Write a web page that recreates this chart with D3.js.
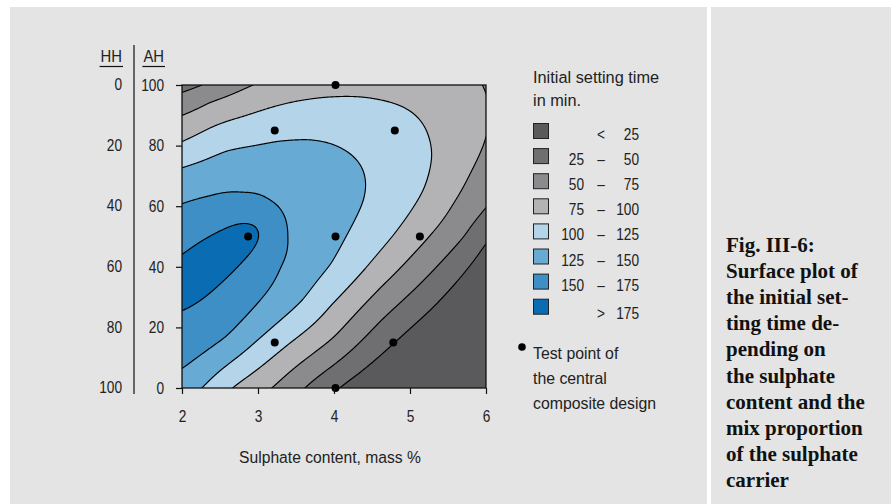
<!DOCTYPE html>
<html lang="en">

<head>
    <meta charset="UTF-8">
    <title>Initial setting time</title>
    <script src="https://cdn.jsdelivr.net/npm/d3@7"></script>
    <style>
        body {
            margin: 0;
            background: #fff;
        }

        .cond {
            font-family: "Liberation Sans", Arial, sans-serif;
            font-size: 16.5px;
            fill: #222;
        }

        .caption {
            font-family: "Liberation Serif", "DejaVu Serif", serif;
            font-weight: bold;
            font-size: 21px;
            fill: #111;
        }
    </style>
</head>

<body>
    <script>
        const width = 891;
        const height = 504;

        // band limits and colours (legend order, low to high)
        const levels = [25, 50, 75, 100, 125, 150, 175];
        const bandLow = [null, 25, 50, 75, 100, 125, 150, 175];
        const bandHigh = [25, 50, 75, 100, 125, 150, 175, null];
        const bandColors = ["#5a5a5c", "#6f6f71", "#8b8b8d", "#b3b3b5", "#b4d4e9", "#67aad4", "#3e8fc6", "#0a6db3"];

        // test points of the central composite design
        const testSulphate = [4.02, 3.22, 4.8, 2.87, 4.02, 5.13, 3.22, 4.78, 4.02];
        const testAH = [100, 85, 85, 50, 50, 50, 15, 15, 0];

        // isoline positions: [sulphate %, AH %]
        const iso25 = [[6, 48.4], [5.7, 37.6], [5.26, 25.5], [4.78, 14.5], [4.06, 0]];
        const iso50 = [[2, 97.3], [2.32, 100], [6, 59.3], [5.72, 49.8], [5.26, 37.6], [4.61, 22.2], [4.0, 7.6], [3.61, 0]];
        const iso75 = [[2, 90.1], [2.36, 94.7], [2.93, 100], [5.95, 100], [6, 97.5], [6, 82.4], [5.79, 70.9], [5.57, 61], [5.26, 50.3], [5.04, 44.2], [4.61, 33.2], [4.0, 16.7], [3.19, 0]];
        const iso100 = [[2, 81], [2.8, 89.5], [3.24, 93.1], [3.68, 95.3], [4.03, 96.1], [4.61, 95], [5.04, 90.7], [5.24, 82.9], [5.29, 76.3], [5.18, 65.3], [4.78, 50.3], [4.39, 38.7], [3.95, 27.2], [3.4, 14.5], [2.64, 0]];
        const iso125 = [[2, 73], [2.58, 78.5], [3.24, 81.5], [3.68, 82.1], [3.95, 80.8], [4.3, 75.2], [4.41, 68.6], [4.39, 62], [4.17, 50.5], [3.96, 40.5], [3.59, 28.8], [2.98, 15.6], [2.27, 0]];
        const iso150 = [[2, 60.7], [2.36, 63.1], [2.8, 64], [3.15, 61.5], [3.32, 57.7], [3.37, 53.2], [3.37, 49.7], [3.28, 39.8], [3.02, 28.8], [2.58, 16.7], [2, 6.3]];
        const iso175 = [[2, 44], [2.27, 48.8], [2.8, 54.6], [3.0, 54.3], [3.04, 51], [3.02, 49.7], [2.8, 42], [2.45, 33.2], [2, 25.5]];

        const yTicks = [0, 20, 40, 60, 80, 100];
        const xTicks = [2, 3, 4, 5, 6];

        const captionLines = ["Fig. III-6:", "Surface plot of", "the initial set-", "ting time de-", "pending on",
            "the sulphate", "content and the", "mix proportion", "of the sulphate", "carrier"];

        // smooth surface through the isoline readings (thin plate spline)
        const phi = r => r > 0 ? r * r * Math.log(r) : 0;
        const norm = (s, ah) => [(s - 2) / 4, ah / 100];

        const solve = (M) => {
            const k = M.length;
            for (let c = 0; c < k; c++) {
                let piv = c;
                for (let r = c + 1; r < k; r++) if (Math.abs(M[r][c]) > Math.abs(M[piv][c])) piv = r;
                [M[c], M[piv]] = [M[piv], M[c]];
                for (let r = 0; r < k; r++) {
                    if (r === c) continue;
                    const f = M[r][c] / M[c][c];
                    if (f === 0) continue;
                    for (let j = c; j <= k; j++) M[r][j] -= f * M[c][j];
                }
            }
            return M.map((r, i) => r[k] / r[i]);
        }

        const knots = [];
        [iso25, iso50, iso75, iso100, iso125, iso150, iso175].forEach((set, i) => {
            set.forEach(p => knots.push({ p: norm(p[0], p[1]), val: levels[i] }));
        });
        const N = knots.length;
        const lambda = 0.004;
        const M = d3.range(N + 3).map(() => new Array(N + 4).fill(0));
        knots.forEach((a, i) => {
            knots.forEach((b, j) => {
                M[i][j] = phi(Math.hypot(a.p[0] - b.p[0], a.p[1] - b.p[1])) + (i === j ? lambda : 0);
            });
            M[i][N] = M[N][i] = 1;
            M[i][N + 1] = M[N + 1][i] = a.p[0];
            M[i][N + 2] = M[N + 2][i] = a.p[1];
            M[i][N + 3] = a.val;
        });
        const w = solve(M);

        const surface = (s, ah) => {
            const [u, v] = norm(s, ah);
            let f = w[N] + w[N + 1] * u + w[N + 2] * v;
            for (let i = 0; i < N; i++) f += w[i] * phi(Math.hypot(u - knots[i].p[0], v - knots[i].p[1]));
            return f;
        }

        // condensed look: Liberation Sans squeezed horizontally
        const squeeze = (sel, sx) => sel.each(function () {
            const t = d3.select(this);
            const px = +t.attr("x") || 0, py = +t.attr("y") || 0;
            t.attr("x", null).attr("y", null).attr("transform", `translate(${px},${py}) scale(${sx},1)`);
        });

        const svg = d3.select("body").append("svg").attr("width", width).attr("height", height);

        // panels
        svg.append("rect").attr("x", 10).attr("y", 7).attr("width", 697).attr("height", height - 7).attr("fill", "#e3e4e3");
        svg.append("rect").attr("x", 711).attr("y", 7).attr("width", width - 711).attr("height", height - 7).attr("fill", "#e3e4e3");

        const x = d3.scaleLinear().domain([2, 6]).range([182, 486]);
        const y = d3.scaleLinear().domain([0, 100]).range([388, 85]);

        svg.append("clipPath").attr("id", "plotclip")
            .append("rect").attr("x", x(2)).attr("y", y(100)).attr("width", x(6) - x(2)).attr("height", y(0) - y(100));

        const plot = svg.append("g").attr("clip-path", "url(#plotclip)");
        plot.append("rect").attr("x", x(2)).attr("y", y(100)).attr("width", x(6) - x(2)).attr("height", y(0) - y(100))
            .attr("fill", bandColors[0]);

        // grid for d3.contours
        const n = 305, m = 304;
        const gs = i => 2 + i * 4 / (n - 1);
        const ga = j => 100 - j * 100 / (m - 1);
        const values = new Float64Array(n * m);
        for (let j = 0; j < m; j++) {
            for (let i = 0; i < n; i++) values[i + j * n] = surface(gs(i), ga(j));
        }
        const contours = d3.contours().size([n, m]).thresholds(levels)(values);
        const path = d3.geoPath(d3.geoTransform({
            point: function (px, py) { this.stream.point(x(gs(px - 0.5)), y(ga(py - 0.5))); }
        }));

        plot.selectAll("path.band")
            .data(contours)
            .join("path")
            .attr("class", "band")
            .attr("d", path)
            .attr("fill", (d, i) => bandColors[i + 1])
            .attr("stroke", "#000")
            .attr("stroke-width", 1.15)
            .attr("stroke-linejoin", "round");

        // frame
        svg.append("rect").attr("x", x(2)).attr("y", y(100)).attr("width", x(6) - x(2)).attr("height", y(0) - y(100))
            .attr("fill", "none").attr("stroke", "#111").attr("stroke-width", 1.3);

        // test points
        svg.append("g").selectAll("circle")
            .data(testSulphate)
            .join("circle")
            .attr("cx", d => x(d))
            .attr("cy", (d, i) => y(testAH[i]))
            .attr("r", 4)
            .attr("fill", "#000");

        // axes
        const xAxis = svg.append("g").attr("transform", `translate(0,${y(0)})`)
            .call(d3.axisBottom(x).tickValues(xTicks).tickFormat(d3.format("d")).tickSize(6).tickPadding(16));
        const yAxis = svg.append("g").attr("transform", `translate(${x(2)},0)`)
            .call(d3.axisLeft(y).tickValues(yTicks).tickSize(6).tickPadding(12));
        [xAxis, yAxis].forEach(a => {
            a.select(".domain").remove();
            a.selectAll("line").attr("stroke", "#111").attr("stroke-width", 1.2);
            a.selectAll("text").attr("class", "cond").attr("fill", null);
            a.attr("font-family", null).attr("font-size", null);
            squeeze(a.selectAll("text"), 0.83);
        });

        // HH scale (complement of AH)
        svg.append("g").selectAll("text")
            .data(yTicks)
            .join("text")
            .attr("class", "cond")
            .attr("x", 122)
            .attr("y", d => y(d))
            .attr("dy", "0.32em")
            .attr("text-anchor", "end")
            .text(d => 100 - d)
            .call(squeeze, 0.83);

        svg.append("line").attr("x1", 134).attr("x2", 134).attr("y1", 45).attr("y2", 394)
            .attr("stroke", "#111").attr("stroke-width", 1.2);

        [["HH", 122], ["AH", 164]].forEach(([t, xe]) => {
            const txt = svg.append("text").attr("class", "cond").attr("x", xe).attr("y", 62)
                .attr("text-anchor", "end").text(t);
            const tw = txt.node().getComputedTextLength() * 0.9;
            txt.call(squeeze, 0.9);
            svg.append("line").attr("x1", xe - tw - 1).attr("x2", xe + 1).attr("y1", 66.5).attr("y2", 66.5)
                .attr("stroke", "#111").attr("stroke-width", 1.2);
        });

        svg.append("text").attr("class", "cond").attr("x", 330).attr("y", 463)
            .attr("text-anchor", "middle").text("Sulphate content, mass %").call(squeeze, 0.95);

        // legend
        const legend = svg.append("g");
        legend.append("text").attr("class", "cond").attr("x", 533).attr("y", 83).text("Initial setting time").call(squeeze, 0.99);
        legend.append("text").attr("class", "cond").attr("x", 533).attr("y", 106).text("in min.").call(squeeze, 0.99);

        const item = legend.selectAll("g.item")
            .data(bandColors)
            .join("g")
            .attr("class", "item")
            .attr("transform", (d, i) => `translate(0,${123.5 + i * 25.1})`);
        item.append("rect").attr("x", 533.5).attr("y", 0).attr("width", 15).attr("height", 15)
            .attr("fill", d => d).attr("stroke", "#222").attr("stroke-width", 1);
        const rowY = (d, i) => i === 7 ? 20 : 16.5;
        item.append("text").attr("class", "cond")
            .attr("x", 584).attr("y", rowY).attr("text-anchor", "end")
            .text((d, i) => bandLow[i] !== null && bandHigh[i] !== null ? bandLow[i] : "")
            .call(squeeze, 0.83);
        item.append("text").attr("class", "cond")
            .attr("x", 601).attr("y", rowY).attr("text-anchor", "middle")
            .text((d, i) => bandLow[i] === null ? "<" : bandHigh[i] === null ? ">" : "–")
            .call(squeeze, 0.83);
        item.append("text").attr("class", "cond")
            .attr("x", 639).attr("y", rowY).attr("text-anchor", "end")
            .text((d, i) => bandHigh[i] === null ? bandLow[i] : bandHigh[i])
            .call(squeeze, 0.83);

        legend.append("circle").attr("cx", 522).attr("cy", 347).attr("r", 3.8).attr("fill", "#000");
        ["Test point of", "the central", "composite design"].forEach((t, i) => {
            legend.append("text").attr("class", "cond").attr("x", 533).attr("y", 358.5 + i * 25)
                .text(t).call(squeeze, 0.96);
        });

        // caption
        svg.append("g").selectAll("text")
            .data(captionLines)
            .join("text")
            .attr("class", "caption")
            .attr("x", 726)
            .attr("y", (d, i) => 251.5 + i * 26.2)
            .text(d => d);
    </script>
</body>

</html>
